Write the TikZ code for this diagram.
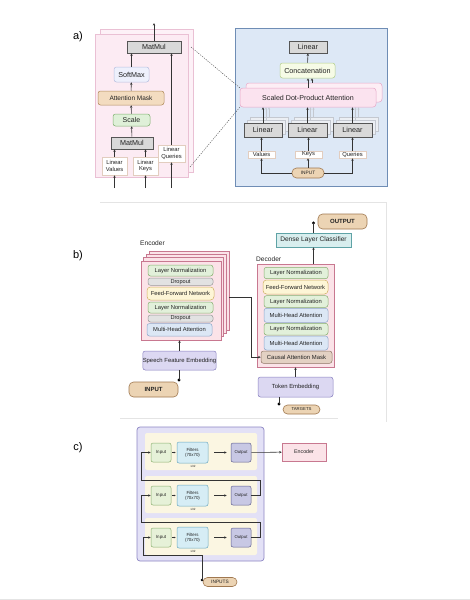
\documentclass[tikz,border=0pt]{standalone}
\usepackage{fontspec}
\setmainfont{Liberation Sans}
\usetikzlibrary{arrows.meta,calc}
\definecolor{txt}{HTML}{222222}
\definecolor{lnc}{HTML}{333333}
\definecolor{gfill}{HTML}{D9D9D9}
\definecolor{gdraw}{HTML}{555555}
\definecolor{pkA}{HTML}{FCEBF3}
\definecolor{pkAd}{HTML}{EAC0D4}
\definecolor{blfill}{HTML}{DDE8F6}
\definecolor{bldraw}{HTML}{6F8DB5}
\definecolor{smfill}{HTML}{EEF0FC}
\definecolor{smdraw}{HTML}{B8C0E0}
\definecolor{amfill}{HTML}{F3DCC0}
\definecolor{amdraw}{HTML}{B08A5A}
\definecolor{scfill}{HTML}{DFF0D8}
\definecolor{scdraw}{HTML}{7FB070}
\definecolor{wdraw}{HTML}{E2CDBF}
\definecolor{catfill}{HTML}{F6FBE6}
\definecolor{catdraw}{HTML}{B4CF8C}
\definecolor{sdfill}{HTML}{FBE3EF}
\definecolor{sddraw}{HTML}{E8A8C8}
\definecolor{tanfill}{HTML}{ECD4B4}
\definecolor{tandraw}{HTML}{A07850}
\definecolor{encfill}{HTML}{FBE3E8}
\definecolor{encdraw}{HTML}{C87890}
\definecolor{lnfill}{HTML}{E2F0DA}
\definecolor{lndraw}{HTML}{86B070}
\definecolor{dofill}{HTML}{E2E2E2}
\definecolor{dodraw}{HTML}{9A9A9A}
\definecolor{fffill}{HTML}{FDF5D6}
\definecolor{ffdraw}{HTML}{D0B060}
\definecolor{mhfill}{HTML}{DCE7F5}
\definecolor{mhdraw}{HTML}{8EA8CC}
\definecolor{sffill}{HTML}{DCD8F2}
\definecolor{sfdraw}{HTML}{8880C0}
\definecolor{cmfill}{HTML}{E3D1C3}
\definecolor{cmdraw}{HTML}{8E7565}
\definecolor{dnfill}{HTML}{D8EEEE}
\definecolor{dndraw}{HTML}{5FA3A6}
\definecolor{cofill}{HTML}{E3E1F6}
\definecolor{codraw}{HTML}{8D86C4}
\definecolor{crfill}{HTML}{FBF6E2}
\definecolor{cifill}{HTML}{E6F1D8}
\definecolor{cidraw}{HTML}{8AB070}
\definecolor{fifill}{HTML}{D6EDF5}
\definecolor{fidraw}{HTML}{6AA8C0}
\definecolor{oufill}{HTML}{C8C8E4}
\definecolor{oudraw}{HTML}{5F5F90}
\definecolor{ghost}{HTML}{C4C8D0}
\definecolor{ghfill}{HTML}{ECEFF4}
\definecolor{frame}{HTML}{E4E4E4}
\newcommand{\myfs}[1]{\fontsize{#1}{#1}\selectfont}
\newcommand{\mybox}[7]{\node[#2,minimum width={((#5)-(#3))*1pt},minimum height={((#6)-(#4))*1pt}] (#1) at ({((#3)+(#5))/2},{((#4)+(#6))/2}) {#7};}
\tikzset{
  bx/.style={draw, line width=0.5pt, inner sep=0pt, text=txt, align=center},
  gbox/.style={bx, fill=gfill, draw=gdraw, line width=0.7pt, font=\myfs{7.2}},
  smbox/.style={bx, fill=smfill, draw=smdraw, rounded corners=2.5pt, font=\myfs{7.2}},
  ambox/.style={bx, fill=amfill, draw=amdraw, rounded corners=2.5pt, font=\myfs{6.5}},
  scbox/.style={bx, fill=scfill, draw=scdraw, rounded corners=2.5pt, font=\myfs{7}},
  lbox/.style={bx, fill=white, draw=wdraw, font=\fontsize{5.8}{6.8}\selectfont},
  wbox/.style={bx, fill=white, draw=wdraw, font=\myfs{5.8}},
  catbox/.style={bx, fill=catfill, draw=catdraw, rounded corners=2.5pt, font=\myfs{7.2}},
  sdbox/.style={bx, fill=sdfill, draw=sddraw, rounded corners=3pt, font=\myfs{7.1}},
  pill/.style={bx, fill=tanfill, draw=tandraw, rounded corners=4.5pt, line width=0.6pt},
  encbox/.style={bx, fill=encfill, draw=encdraw, line width=0.6pt},
  lnbox/.style={bx, fill=lnfill, draw=lndraw, rounded corners=2.5pt, font=\myfs{5.8}},
  dobox/.style={bx, fill=dofill, draw=dodraw, rounded corners=2.5pt, font=\myfs{5.6}},
  ffbox/.style={bx, fill=fffill, draw=ffdraw, rounded corners=3.5pt, font=\myfs{5.8}},
  mhbox/.style={bx, fill=mhfill, draw=mhdraw, rounded corners=2.5pt, font=\myfs{5.8}},
  sfbox/.style={bx, fill=sffill, draw=sfdraw, rounded corners=2.5pt, font=\myfs{5.9}},
  cmbox/.style={bx, fill=cmfill, draw=cmdraw, rounded corners=2.5pt, font=\myfs{5.9}},
  dnbox/.style={bx, fill=dnfill, draw=dndraw, font=\myfs{6.6}},
  cinbox/.style={bx, fill=cifill, draw=cidraw, rounded corners=2pt, font=\myfs{4.5}},
  fibox/.style={bx, fill=fifill, draw=fidraw, rounded corners=2pt, font=\fontsize{4.4}{5.1}\selectfont},
  oubox/.style={bx, fill=oufill, draw=oudraw, rounded corners=2pt, font=\myfs{4.3}},
  arr/.style={-{Stealth[length=2.6pt,width=2.4pt]}, line width=0.55pt, draw=lnc},
  ghostarr/.style={-{Stealth[length=2.4pt,width=2.2pt]}, line width=0.5pt, draw=ghost},
  tinyarr/.style={-{Stealth[length=1.6pt,width=1.6pt]}, line width=0.4pt, draw=lnc},
  plain/.style={line width=0.55pt, draw=lnc},
  dot/.style={circle, fill=black, inner sep=0pt, minimum size=3.4pt},
  lbl/.style={font=\myfs{11}, text=black},
  dsh/.style={line width=0.45pt, draw=gdraw, dash pattern=on 1.2pt off 1.2pt}
}
\begin{document}
\begin{tikzpicture}[x=1pt,y=-1pt]
\useasboundingbox (0,0) rectangle (470,600);
\fill[white] (0,0) rectangle (470,600);
\draw[frame, line width=0.6pt] (0,599) -- (470,599);

% ---------------- panel a ----------------
\node[lbl] (la) at (78,37) {a)};
\draw[pkAd, fill=pkA!70!white, line width=0.5pt] (100,29) rectangle (193,172);
\draw[pkAd, fill=pkA, line width=0.5pt] (95,34) rectangle (188,177);
\mybox{mmA}{gbox}{127}{41}{181}{53}{MatMul}
\mybox{sm}{smbox}{114}{67}{149}{82}{SoftMax}
\mybox{am}{ambox}{98}{91}{164}{105}{Attention Mask}
\mybox{sc}{scbox}{113}{114}{150}{126}{Scale}
\mybox{mmB}{gbox}{111}{137}{153}{149}{MatMul}
\mybox{lv}{lbox}{102}{157}{127}{175}{Linear\\Values}
\mybox{lk}{lbox}{133}{157}{158}{175}{Linear\\Keys}
\mybox{lq}{lbox}{158}{145}{185}{162}{Linear\\Queries}
\coordinate (aout) at (154,23);
\coordinate (ainv) at (114.5,188);
\coordinate (aink) at (145.5,188);
\coordinate (ainq) at (171.5,188);
\draw[arr] (mmA.north) -- (aout);
\draw[arr] (mmB) -- (sc);
\draw[arr] (sc) -- (am);
\draw[arr] (am) -- (sm);
\draw[arr] (sm.north) -- (sm.north |- mmA.south);
\draw[arr] (lv.north) -- (lv.north |- mmB.south);
\draw[arr] (lk.north) -- (lk.north |- mmB.south);
\draw[arr] (lq.north) -- (lq.north |- mmA.south);
\draw[arr] (ainv) -- (lv.south);
\draw[arr] (aink) -- (lk.south);
\draw[arr] (ainq) -- (lq.south);

% blue panel
\draw[bldraw, fill=blfill, line width=0.7pt] (235,28) rectangle (387,186);
\mybox{linT}{gbox}{289}{41}{327}{53}{Linear}
\mybox{cat}{catbox}{280}{63}{335}{78}{Concatenation}
\draw[sddraw, fill=sdfill!60!white, line width=0.5pt, rounded corners=3pt] (246,83) rectangle (382,102);
\mybox{sdpa}{sdbox}{240}{88}{376}{107}{Scaled Dot-Product Attention}
\foreach \xa/\xb in {244/282, 288/327, 333/372}{
  \draw[ghost, fill=ghfill, line width=0.5pt] (\xa+6,117) rectangle (\xb+6,131);
  \draw[ghost, fill=ghfill, line width=0.5pt] (\xa+3,120) rectangle (\xb+3,134);
}
\mybox{lin1}{gbox}{244}{123}{282}{137}{Linear}
\mybox{lin2}{gbox}{288}{123}{327}{137}{Linear}
\mybox{lin3}{gbox}{333}{123}{372}{137}{Linear}
\mybox{val}{wbox}{248}{151}{275}{158}{Values}
\mybox{key}{wbox}{295}{151}{322}{158}{Keys}
\mybox{qry}{wbox}{339}{151}{366}{158}{Queries}
\mybox{inA}{pill}{292}{168}{324}{178}{\myfs{4.8}INPUT}
\draw[arr] (inA.west) -| (val.south);
\draw[arr] (inA.east) -| (qry.south);
\draw[arr] (inA.north) -- (inA.north |- key.south);
\draw[arr] (val.north) -- (val.north |- lin1.south);
\draw[arr] (key.north) -- (key.north |- lin2.south);
\draw[arr] (qry.north) -- (qry.north |- lin3.south);
\foreach \n in {lin1,lin2,lin3}{
  \draw[ghostarr] ([xshift=6pt,yshift=6pt]\n.north) -- ([xshift=6pt]\n.north |- sdpa.south);
  \draw[ghostarr] ([xshift=3pt,yshift=3pt]\n.north) -- ([xshift=3pt]\n.north |- sdpa.south);
  \draw[arr] (\n.north) -- (\n.north |- sdpa.south);
}
\draw[arr] ([xshift=4pt,yshift=5pt]sdpa.north) -- ([xshift=4pt]sdpa.north |- cat.south);
\draw[arr] (sdpa.north) -- (sdpa.north |- cat.south);
\draw[arr] (cat) -- (linT);
\coordinate (dA) at (191,47);
\coordinate (dB) at (190,167);
\draw[dsh] (dA) -- (sdpa.north west);
\draw[dsh] (dB) -- (sdpa.south west);

% ---------------- panel b ----------------
\draw[frame, line width=0.6pt] (100,202) -- (386,202) -- (386,422);
\draw[frame, line width=0.6pt] (120,418) -- (338,418);
\node[lbl] (lb) at (78,256) {b)};
\node[anchor=west, inner sep=0pt, font=\myfs{6.6}, text=txt] (enclbl) at (140,243) {Encoder};
\foreach \k in {3,2,1}{
  \draw[encdraw, fill=encfill, line width=0.6pt] (141+2.7*\k,261-3.3*\k) rectangle (221+2.7*\k,340-3.3*\k);
}
\mybox{enc}{encbox}{141}{261}{221}{340}{}
\mybox{eln1}{lnbox}{148}{265}{213}{276}{Layer Normalization}
\mybox{edo1}{dobox}{148}{278}{213}{285.3}{Dropout}
\mybox{effn}{ffbox}{147}{287}{214}{300}{Feed-Forward Network}
\mybox{eln2}{lnbox}{148}{302}{213}{313}{Layer Normalization}
\mybox{edo2}{dobox}{148}{315}{213}{322}{Dropout}
\mybox{emha}{mhbox}{147}{323.5}{212}{336}{Multi-Head Attention}
\mybox{sfe}{sfbox}{143}{351}{216}{370}{Speech Feature Embedding}
\mybox{inB}{pill}{129}{382}{178}{397}{\bfseries\myfs{6}INPUT}
\draw[arr] (sfe.north) -- (sfe.north |- enc.south);
\node[dot] (dotB) at (179,380) {};
\draw[plain] (dotB.center) -- (dotB.center |- sfe.south);

\node[anchor=west, inner sep=0pt, font=\myfs{6.6}, text=txt] (declbl) at (256,259.5) {Decoder};
\mybox{dec}{encbox}{257}{264}{334}{367}{}
\mybox{dln1}{lnbox}{264}{267.3}{328}{278.7}{Layer Normalization}
\mybox{dffn}{ffbox}{263}{280}{328}{294}{Feed-Forward Network}
\mybox{dln2}{lnbox}{264}{295.7}{328}{307.3}{Layer Normalization}
\mybox{dmha1}{mhbox}{264}{308.3}{328}{322.3}{Multi-Head Attention}
\mybox{dln3}{lnbox}{264}{323.3}{328}{335}{Layer Normalization}
\mybox{dmha2}{mhbox}{264}{336}{328}{350}{Multi-Head Attention}
\mybox{cam}{cmbox}{261}{351}{332}{363.3}{Causal Attention Mask}
\coordinate (e2d) at (229.3,297);
\coordinate (bendB) at (251,297);
\draw[arr] (e2d) -- (bendB) |- (cam.west);
\mybox{tok}{sfbox}{258}{377}{333}{397}{Token Embedding}
\draw[arr] (tok.north) -- (tok.north |- dec.south);
\mybox{tgt}{pill}{283}{405}{320}{414}{\myfs{4.3}TARGETS}
\node[dot] (dotT) at (279,404) {};
\draw[plain] (dotT.center) -- (dotT.center |- tok.south);
\mybox{dense}{dnbox}{276}{233}{351}{247}{Dense Layer Classifier}
\draw[arr] (dense.south |- dec.north) -- (dense.south);
\mybox{outB}{pill}{318}{214}{367}{229}{\bfseries\myfs{6}OUTPUT}
\node[dot] (dotO) at (313.5,223) {};
\draw[plain] (dense.north) -- (dotO.center);

% ---------------- panel c ----------------
\node[lbl] (lc) at (78,448) {c)};
\draw[codraw, fill=cofill, line width=0.7pt, rounded corners=3pt] (137,427) rectangle (264,561);
\foreach \r/\dy in {1/0, 2/43, 3/85}{
  \fill[crfill, rounded corners=2pt] (145,433+\dy) rectangle (257,470+\dy);
  \mybox{cin\r}{cinbox}{151}{443+\dy}{171}{462+\dy}{Input}
  \mybox{cfi\r}{fibox}{177}{442+\dy}{208}{463+\dy}{Filters\\(70x70)}
  \node[font=\myfs{3}, text=txt, inner sep=0pt] (x\r) at (193,466.5+\dy) {x32};
  \mybox{cout\r}{oubox}{231}{443+\dy}{251}{462+\dy}{Output}
  \draw[tinyarr, shorten <=1.2pt, shorten >=1.2pt] (cin\r) -- (cfi\r);
  \draw[arr, shorten <=6pt, shorten >=4pt] (cfi\r) -- (cout\r);
}
\mybox{encC}{encbox}{282}{443}{326}{461}{\myfs{5.3}Encoder}
\draw[arr] (cout1) -- (encC);
\coordinate (fbA) at (141,480);
\coordinate (fbB) at (141,522);
\coordinate (fbC) at (143,555);
\draw[arr] (cout2.east) -- ++(9,0) |- (fbA) |- (cin1.west);
\draw[arr] (cout3.east) -- ++(9,0) |- (fbB) |- (cin2.west);
\mybox{inC}{pill}{203}{577.5}{237}{586.5}{\myfs{4.8}INPUTS}
\node[dot, minimum size=2.6pt] (dotC) at (202,580) {};
\draw[arr] (dotC.center) |- (fbC) |- (cin3.west);
\end{tikzpicture}
\end{document}
